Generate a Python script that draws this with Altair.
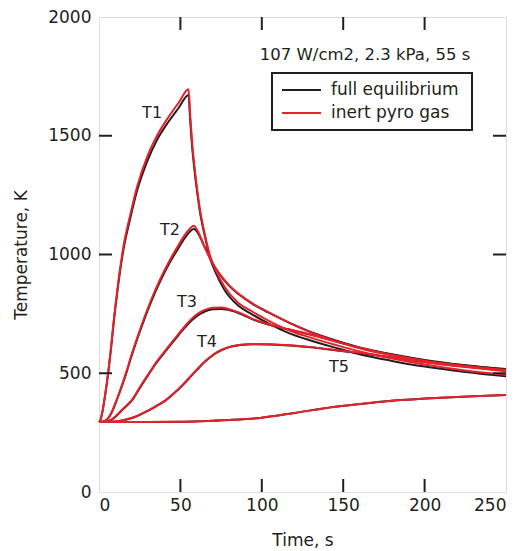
import altair as alt
import pandas as pd

# ---------------- data ----------------
t_T1 = [0, 1, 2, 3, 4, 5, 6, 7, 8, 9, 10, 12, 15, 19.3, 23.3, 29.5, 35.6, 42.8,
        49, 55, 56, 57, 58.5, 60, 62, 65, 68, 72, 77, 85, 94, 104, 117, 130, 145,
        160, 180, 200, 225, 250]
T1_inert = [295, 305, 335, 375, 420, 470, 525, 585, 650, 718, 780, 893, 1033,
            1170, 1283, 1410, 1500, 1580, 1640, 1696, 1590, 1490, 1380, 1290, 1190,
            1085, 1000, 930, 865, 800, 760, 722, 680, 650, 620, 592, 562, 537, 512,
            494]
T1_full = [295, 305, 334, 373, 418, 467, 521, 580, 644, 711, 772, 883, 1020, 1155,
           1266, 1390, 1482, 1560, 1618, 1672, 1565, 1470, 1365, 1278, 1180, 1078,
           990, 918, 852, 788, 748, 710, 668, 638, 608, 580, 552, 528, 505, 487]

t_T2 = [0, 3, 5, 7, 9, 11.5, 14.1, 17, 19.4, 22, 25.4, 31.5, 37.7, 43.8, 48, 52,
        55, 58.2, 61, 64, 67, 70, 75, 80, 87, 94, 104, 117, 130, 145, 160, 180,
        200, 225, 250]
T2_inert = [295, 298, 305, 325, 355, 400, 450, 510, 565, 620, 688, 800, 898, 980,
            1030, 1075, 1102, 1121, 1095, 1045, 1000, 960, 910, 870, 828, 795, 757,
            712, 672, 636, 605, 574, 550, 528, 511]
T2_full = [295, 298, 305, 324, 353, 398, 447, 506, 560, 614, 681, 792, 889, 970,
           1018, 1062, 1090, 1107, 1088, 1045, 1002, 960, 908, 868, 826, 793, 756,
           712, 674, 639, 608, 578, 554, 533, 516]

t_T3 = [0, 4, 7, 10, 15, 20.5, 25, 30, 35, 41, 47, 53, 57, 61, 65, 70, 75, 80, 88,
        94, 104, 117, 130, 145, 160, 180, 200, 225, 250]
T3_inert = [295, 296, 302, 318, 352, 390, 440, 493, 545, 598, 650, 700, 730, 752,
            767, 776, 777, 770, 750, 730, 706, 684, 662, 634, 607, 577, 553, 531,
            514]
T3_full = [295, 296, 301, 316, 350, 388, 437, 490, 541, 594, 645, 694, 723, 745,
           760, 769, 771, 766, 747, 728, 705, 684, 663, 636, 609, 580, 556, 534, 518]

t_T4 = [0, 8, 12, 17, 22.5, 30, 35, 41, 48, 55, 60, 65, 70, 75, 80, 87, 95, 105,
        117, 130, 145, 160, 180, 200, 225, 250]
T4_inert = [295, 296, 299, 306, 318, 343, 362, 387, 428, 478, 515, 550, 578, 598,
            611, 620, 623, 622, 618, 610, 598, 586, 566, 546, 526, 509]
T4_full = [295, 296, 298, 305, 317, 342, 361, 386, 427, 476, 513, 548, 576, 596,
           610, 619, 622, 621, 617, 609, 597, 585, 566, 547, 528, 512]

t_T5 = [0, 30, 50, 62, 80, 99, 120, 144, 165, 185, 210, 230, 250]
T5_inert = [295, 295, 296, 298, 303, 312, 333, 358, 374, 387, 397, 403, 408]
T5_full = [295, 295, 296, 298, 303, 312, 333, 358, 374, 387, 397, 403, 408]

models = ["full equilibrium", "inert pyro gas"]
model_colors = ["#231f20", "#e8202a"]

label_text = ["T1", "T2", "T3", "T4", "T5"]
label_time = [32.6, 43.6, 54.0, 66.3, 147.4]
label_temp = [1596, 1103, 800, 632, 526]

note_text = ["107 W/cm2, 2.3 kPa, 55 s"]
note_time = [163.4]
note_temp = [1840]

x_ticks = [50, 100, 150, 200]
y_ticks = [500, 1000, 1500]

# ---------------- tables ----------------
rows = []
series = {
    "T1": (t_T1, T1_full, T1_inert),
    "T2": (t_T2, T2_full, T2_inert),
    "T3": (t_T3, T3_full, T3_inert),
    "T4": (t_T4, T4_full, T4_inert),
    "T5": (t_T5, T5_full, T5_inert),
}
for name, (ts, full, inert) in series.items():
    for t, v in zip(ts, full):
        rows.append({"time": t, "temp": v, "probe": name, "model": models[0]})
    for t, v in zip(ts, inert):
        rows.append({"time": t, "temp": v, "probe": name, "model": models[1]})
df = pd.DataFrame(rows)

labels_df = pd.DataFrame({"text": label_text, "time": label_time, "temp": label_temp})
note_df = pd.DataFrame({"text": note_text, "time": note_time, "temp": note_temp})
xt_df = pd.DataFrame({"tick": x_ticks})
yt_df = pd.DataFrame({"tick": y_ticks})
leg_df = pd.DataFrame({"model": models})

FONT = "DejaVu Sans"
INK = "#231f20"
W, H = 407, 475
TICK = 13

xscale = alt.Scale(domain=[0, 250], nice=False, zero=False)
yscale = alt.Scale(domain=[0, 2000], nice=False, zero=False)
cscale = alt.Scale(domain=models, range=model_colors)

x_axis = alt.Axis(values=[0, 50, 100, 150, 200, 250], format="d", ticks=False,
                  domain=False, grid=False, labelFontSize=17, labelPadding=5,
                  labelFont=FONT, labelColor=INK, title="Time, s", titleFont=FONT,
                  titleFontSize=17, titleFontWeight="normal", titleColor=INK,
                  titlePadding=19)
y_axis = alt.Axis(values=[0, 500, 1000, 1500, 2000], format="d", ticks=False,
                  domain=False, grid=False, labelFontSize=17, labelPadding=8,
                  labelFont=FONT, labelColor=INK, title="Temperature, K",
                  titleFont=FONT, titleFontSize=17, titleFontWeight="normal",
                  titleColor=INK, titlePadding=17)

base = alt.Chart(df)

full_layer = base.transform_filter(alt.datum.model == models[0]).mark_line(
    strokeWidth=2, interpolate="monotone"
).encode(
    x=alt.X("time:Q", scale=xscale, axis=x_axis),
    y=alt.Y("temp:Q", scale=yscale, axis=y_axis),
    color=alt.Color("model:N", scale=cscale, legend=None),
    detail="probe:N",
)
inert_layer = base.transform_filter(alt.datum.model == models[1]).mark_line(
    strokeWidth=2, interpolate="monotone"
).encode(
    x=alt.X("time:Q", scale=xscale),
    y=alt.Y("temp:Q", scale=yscale),
    color=alt.Color("model:N", scale=cscale, legend=None),
    detail="probe:N",
)

labels = alt.Chart(labels_df).mark_text(font=FONT, fontSize=16, color=INK).encode(
    x=alt.X("time:Q", scale=xscale), y=alt.Y("temp:Q", scale=yscale), text="text:N")
note = alt.Chart(note_df).mark_text(font=FONT, fontSize=16.5, color=INK).encode(
    x=alt.X("time:Q", scale=xscale), y=alt.Y("temp:Q", scale=yscale), text="text:N")

tick_style = dict(color=INK, strokeWidth=2)
xt_bottom = alt.Chart(xt_df).mark_rule(**tick_style).encode(
    x=alt.X("tick:Q", scale=xscale), y=alt.value(H), y2=alt.value(H - TICK))
xt_top = alt.Chart(xt_df).mark_rule(**tick_style).encode(
    x=alt.X("tick:Q", scale=xscale), y=alt.value(0), y2=alt.value(TICK))
yt_left = alt.Chart(yt_df).mark_rule(**tick_style).encode(
    y=alt.Y("tick:Q", scale=yscale), x=alt.value(0), x2=alt.value(TICK))
yt_right = alt.Chart(yt_df).mark_rule(**tick_style).encode(
    y=alt.Y("tick:Q", scale=yscale), x=alt.value(W), x2=alt.value(W - TICK))

# ---------------- legend box (drawn by hand) ----------------
LX0, LX1, LY0, LY1 = 173, 373, 56, 113
ROW_Y = [73, 96]
leg_box = alt.Chart(leg_df.head(1)).mark_rect(
    fill="white", stroke=INK, strokeWidth=2
).encode(x=alt.value(LX0), x2=alt.value(LX1), y=alt.value(LY0), y2=alt.value(LY1))
leg_items = []
for i, m in enumerate(models):
    one = leg_df[leg_df["model"] == m]
    leg_items.append(alt.Chart(one).mark_rule(strokeWidth=2).encode(
        x=alt.value(LX0 + 10), x2=alt.value(LX0 + 49), y=alt.value(ROW_Y[i]),
        color=alt.Color("model:N", scale=cscale, legend=None)))
    leg_items.append(alt.Chart(one).mark_text(
        font=FONT, fontSize=17, color=INK, align="left", baseline="middle"
    ).encode(x=alt.value(LX0 + 59), y=alt.value(ROW_Y[i]), text="model:N"))

chart = alt.layer(
    full_layer, inert_layer, labels, note, xt_bottom, xt_top, yt_left, yt_right,
    leg_box, *leg_items
).properties(
    width=W, height=H,
    autosize=alt.AutoSizeParams(type="none"),
    padding={"left": 99, "top": 17, "right": 19, "bottom": 59},
).configure_view(
    stroke=INK, strokeWidth=2
).configure(background="white")

chart.save("out.html", embed_options={"renderer": "svg", "actions": False})
